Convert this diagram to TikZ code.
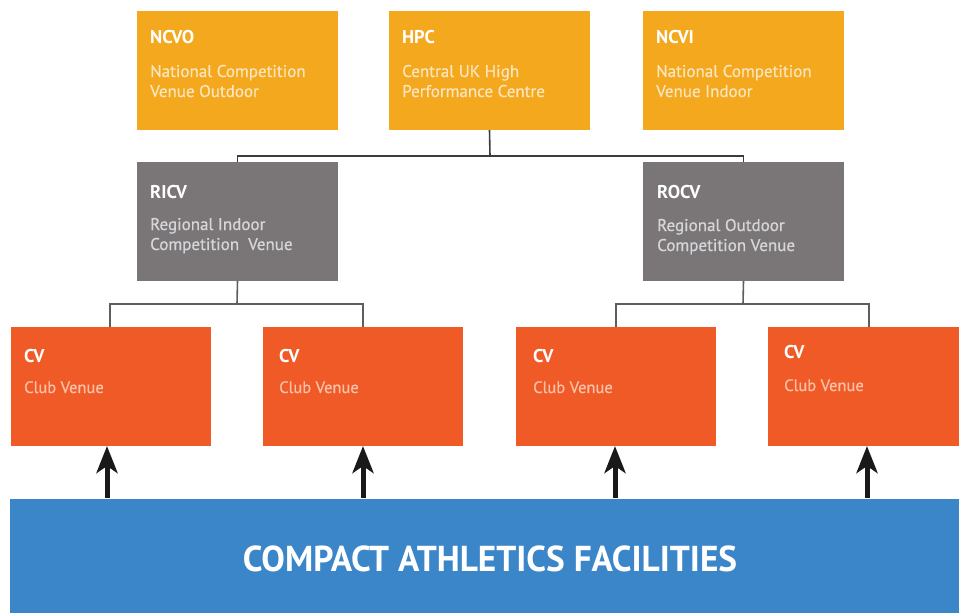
\documentclass[tikz,border=0pt]{standalone}
\usepackage{fontspec}
\setmainfont{PT Sans}
\newfontfamily\subfont[FakeBold=0.7]{PT Sans}
\usetikzlibrary{arrows.meta}
\definecolor{natorange}{HTML}{F4A81D}
\definecolor{reggray}{HTML}{7A7677}
\definecolor{clubred}{HTML}{F05A27}
\definecolor{barblue}{HTML}{3A86C9}
\definecolor{subnat}{HTML}{FCE4BC}
\definecolor{subreg}{HTML}{D6D6DA}
\definecolor{subclub}{HTML}{FAC0A8}
\definecolor{linetop}{HTML}{3C3C3C}
\definecolor{linelow}{HTML}{5E5E5E}
\tikzset{
  box/.style={rectangle, inner sep=0pt, outer sep=0pt, minimum width=201pt, minimum height=119pt, anchor=north west},
  natbox/.style={box, fill=natorange},
  regbox/.style={box, fill=reggray},
  clubbox/.style={box, fill=clubred, minimum width=200pt},
  ttl/.style={inner sep=0pt, anchor=base west, text=white, font=\fontsize{18.5}{20}\selectfont\bfseries},
  sub/.style={inner sep=0pt, anchor=base west, font=\subfont\fontsize{17}{20}\selectfont},
  clubsub/.style={inner sep=0pt, anchor=base west, text=subclub, font=\subfont\fontsize{16.5}{18}\selectfont},
  toplink/.style={draw=linetop, line width=1.6pt},
  lowlink/.style={draw=linelow, line width=1.6pt},
  uparrow/.style={draw=black!90, line width=5pt, -{Stealth[length=27pt,width=21pt,inset=7pt]}},
}
\begin{document}
\begin{tikzpicture}[x=1pt,y=-1pt]
\useasboundingbox (0,0) rectangle (959,613);
\fill[white] (0,0) rectangle (959,613);
\begin{scope}
\clip (0,0) rectangle (959,613);
% top row
\node[natbox] (ncvo) at (137,11) {};
\node[natbox] (hpc) at (389,11) {};
\node[natbox] (ncvi) at (643,11) {};
\node[ttl] (ncvot) at (150,43) {NCVO};
\node[sub, text=subnat] (ncvos1) at (150,77) {National Competition};
\node[sub, text=subnat] (ncvos2) at (150,97) {Venue Outdoor};
\node[ttl] (hpct) at (402,43) {HPC};
\node[sub, text=subnat] (hpcs1) at (402,77) {Central UK High};
\node[sub, text=subnat] (hpcs2) at (402,97) {Performance Centre};
\node[ttl] (ncvit) at (656,43) {NCVI};
\node[sub, text=subnat] (ncvis1) at (656,77) {National Competition};
\node[sub, text=subnat] (ncvis2) at (656,97) {Venue Indoor};
% regional
\node[regbox] (ricv) at (137,162) {};
\node[regbox] (rocv) at (643,162) {};
\node[ttl] (ricvt) at (150,198) {RICV};
\node[sub, text=subreg] (ricvs1) at (150,230) {Regional Indoor};
\node[sub, text=subreg] (ricvs2) at (150,250) {Competition\ \ Venue};
\node[ttl] (rocvt) at (657,198) {ROCV};
\node[sub, text=subreg] (rocvs1) at (657,231) {Regional Outdoor};
\node[sub, text=subreg] (rocvs2) at (657,251) {Competition Venue};
% club venues
\node[clubbox] (cv1) at (11,327) {};
\node[clubbox] (cv2) at (263,327) {};
\node[clubbox] (cv3) at (516,327) {};
\node[clubbox] (cv4) at (768,327) {};
\node[ttl] (cv1t) at (24,362) {CV};
\node[clubsub] (cv1s) at (24,393) {Club Venue};
\node[ttl] (cv2t) at (279,362) {CV};
\node[clubsub] (cv2s) at (279,393) {Club Venue};
\node[ttl] (cv3t) at (533,362) {CV};
\node[clubsub] (cv3s) at (533,393) {Club Venue};
\node[ttl] (cv4t) at (784,358) {CV};
\node[clubsub] (cv4s) at (784,391) {Club Venue};
% bottom bar
\fill[barblue] (10,499) rectangle (970,620);
\node[inner sep=0pt, anchor=base, text=white, font=\fontsize{36}{40}\selectfont\bfseries] (cafl) at (490,571) {\scalebox{0.98}[1]{COMPACT ATHLETICS FACILITIES}};
% connectors
\coordinate (hpcj) at (490,156);
\draw[toplink] (hpc.south) -- (hpcj);
\draw[toplink] (ricv.north) |- (hpcj) -| (rocv.north);
\coordinate (ricvj) at (237,304);
\coordinate (rocvj) at (743,304);
\draw[lowlink] (ricv.south) -- (ricvj);
\draw[lowlink] (rocv.south) -- (rocvj);
\coordinate (cv1top) at (110,327);
\coordinate (cv2top) at (363,327);
\coordinate (cv3top) at (616,327);
\coordinate (cv4top) at (869,327);
\draw[lowlink] (cv1top) |- (ricvj) -| (cv2top);
\draw[lowlink] (cv3top) |- (rocvj) -| (cv4top);
% arrows
\coordinate (a1) at (107,498);
\coordinate (a2) at (363,498);
\coordinate (a3) at (615,498);
\coordinate (a4) at (867,498);
\draw[uparrow] (a1) -- (a1 |- cv1.south);
\draw[uparrow] (a2) -- (a2 |- cv2.south);
\draw[uparrow] (a3) -- (a3 |- cv3.south);
\draw[uparrow] (a4) -- (a4 |- cv4.south);
\end{scope}
\end{tikzpicture}
\end{document}
